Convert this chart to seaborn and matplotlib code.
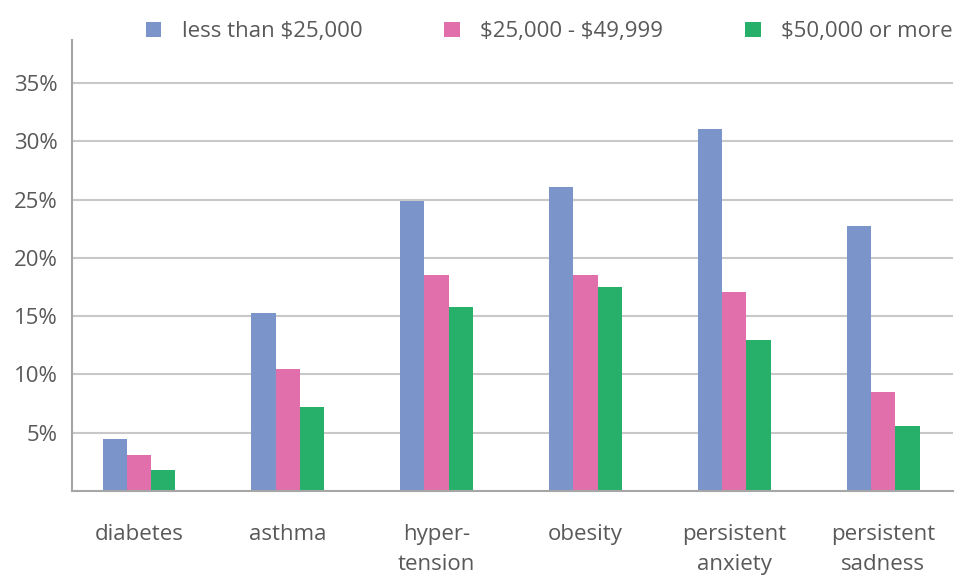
import matplotlib
matplotlib.use("Agg")
import matplotlib.pyplot as plt
import seaborn as sns
import pandas as pd
from matplotlib.patches import Patch

categories = ["diabetes", "asthma", "hyper-\ntension", "obesity", "persistent\nanxiety", "persistent\nsadness"]
groups = ["less than \\$25,000", "\\$25,000 - \\$49,999", "\\$50,000 or more"]
low_income = [4.5, 15.3, 24.9, 26.1, 31.1, 22.7]
mid_income = [3.1, 10.5, 18.5, 18.5, 17.1, 8.5]
high_income = [1.8, 7.2, 15.8, 17.5, 13.0, 5.6]
yticks = [5, 10, 15, 20, 25, 30, 35]
colors = ["#7b94c9", "#e06fab", "#27b06a"]

rows = []
for g, vals in zip(groups, [low_income, mid_income, high_income]):
    for c, v in zip(categories, vals):
        rows.append({"cat": c, "val": v, "group": g})
df = pd.DataFrame(rows)

sns.set_theme(style="white")
plt.rcParams["font.family"] = ["Open Sans", "DejaVu Sans"]

fig = plt.figure(figsize=(9.55, 5.77), dpi=100)
ax = fig.add_axes([72 / 955, 1 - 491 / 577, (953 - 72) / 955, 451 / 577])

sns.barplot(data=df, x="cat", y="val", hue="group", order=categories,
            hue_order=groups, palette=colors, width=0.49, gap=0,
            saturation=1, ax=ax, legend=False, linewidth=0)

ax.set_ylim(0, 38.7)
ax.set_xlim(-0.45, 5.47)
ax.set_yticks(yticks)
ax.set_yticklabels([f"{t}%" for t in yticks])
ax.yaxis.grid(True, color="#c8c8c8", linewidth=1.5)
ax.set_axisbelow(True)
ax.set_xlabel("")
ax.set_ylabel("")
for s in ["top", "right"]:
    ax.spines[s].set_visible(False)
for s in ["left", "bottom"]:
    ax.spines[s].set_color("#a6a6a6")
    ax.spines[s].set_linewidth(1.5)
ax.tick_params(axis="y", length=0, pad=10, labelsize=16, labelcolor="#595959")
ax.tick_params(axis="x", length=0, pad=24, labelsize=16, labelcolor="#595959")
for lab in ax.get_xticklabels():
    lab.set_linespacing(1.55)
    lab.set_verticalalignment("top")

handles = [Patch(facecolor=c, edgecolor="none") for c in colors]
fig.legend(handles, groups, loc="center", bbox_to_anchor=(0.575, 0.945), ncol=3,
           frameon=False, fontsize=16, labelcolor="#595959",
           handlelength=0.7, handleheight=0.7, handletextpad=0.9,
           columnspacing=3.7)

fig.savefig("out.png", dpi=100, facecolor="white")
